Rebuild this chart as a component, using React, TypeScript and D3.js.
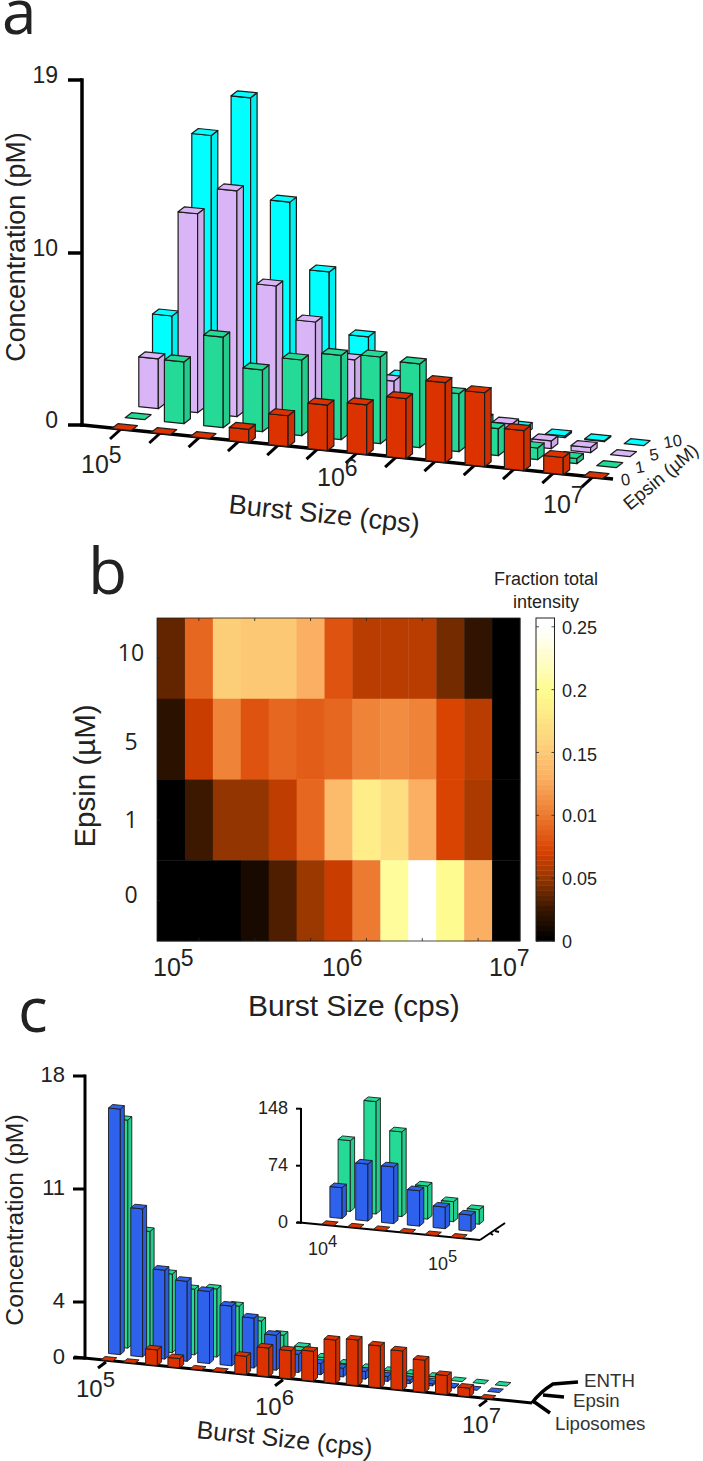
import React from "react";
import { scaleLinear, line, range, color } from "d3";

// panel a: Burst Size bins, concentration (pM)
const epsinLevels = ["0", "1", "5", "10"];
const epsin0 = [0, 0, 0, 0.77, 1.8, 2.65, 2.9, 3.49, 4.65, 4.3, 2.33, 1.0, 0];
const epsin1 = [0, 3.59, 5.27, 3.59, 4.4, 4.9, 5.04, 4.87, 3.37, 1.57, 0.68, 0.3, 0];
const epsin5 = [2.9, 11.4, 12.8, 7.83, 5.97, 4.0, 3.0, 1.5, 1.0, 1.2, 0.45, 0.3, 0];
const epsin10 = [4.75, 14.9, 17.07, 11.85, 8.24, 4.7, 2.6, 1.2, 0.6, 0.35, 0.1, 0.05, 0];

// panel b: fraction total intensity, rows from top
const heatRows = ["10", "5", "1", "0"];
const heat10 = [0.035, 0.09, 0.155, 0.15, 0.15, 0.13, 0.08, 0.06, 0.06, 0.06, 0.04, 0.02, 0];
const heat5 = [0.018, 0.065, 0.105, 0.08, 0.09, 0.085, 0.09, 0.105, 0.11, 0.105, 0.072, 0.06, 0];
const heat1 = [0, 0.025, 0.048, 0.048, 0.062, 0.09, 0.14, 0.185, 0.17, 0.13, 0.072, 0.055, 0];
const heat0 = [0, 0, 0, 0.01, 0.03, 0.05, 0.065, 0.1, 0.205, 0.25, 0.2, 0.13, 0];
const colorbarTicks = [0, 0.05, 0.1, 0.15, 0.2, 0.25];
const colorbarLabels = ["0", "0.05", "0.01", "0.15", "0.2", "0.25"];
const heatStops = [0, 0.025, 0.05, 0.07, 0.1, 0.13, 0.16, 0.2, 0.23, 0.25];
const heatColors = ["#000000", "#3c1800", "#9a3800", "#d84000", "#ec7a30", "#fbaf62", "#fdd47c", "#fefc90", "#fffdd0", "#ffffff"];

// panel c
const liposomes = [0, 0, 1.12, 0.66, 0, 0, 1.3, 2.05, 2.02, 2.14, 3.1, 3.26, 3.0, 2.8, 2.3, 1.36, 0.62, 0];
const epsinC = [15.74, 9.7, 6.04, 5.49, 5.0, 4.23, 3.57, 2.5, 1.3, 0.8, 0.63, 0.55, 0.35, 0.25, 0.15, 0.05, 0, 0];
const enth = [14.66, 7.9, 5.4, 4.6, 4.75, 3.8, 2.9, 2.04, 1.34, 0.73, 0.45, 0.3, 0.25, 0.2, 0.15, 0, 0, 0];

// panel c inset
const insetLiposomes = [0, 0, 0, 0, 0, 0];
const insetEpsin = [40, 74, 73.6, 46, 28, 21];
const insetEnth = [92, 146, 110, 43, 26, 19];

const RED = "#dc3200";
const GREEN = "#25da96";
const PURPLE = "#d9b5f7";
const CYAN = "#00ffff";
const BLUE = "#2f62ec";
const SANS = "'Liberation Sans', Arial, sans-serif";
const MYRIAD = "'Open Sans', sans-serif";
const INK = "#222";

const path = line();

function Bars({ rows, h, x0, y0, dx, dy, sx, sy, w, d, sw = 1 }) {
  // rows go front to back, painted back to front
  const n = rows[0].values.length;
  const xAt = scaleLinear().domain([0, n - 1]).range([x0, x0 + dx * (n - 1)]);
  const yAt = scaleLinear().domain([0, n - 1]).range([y0, y0 + dy * (n - 1)]);
  const slope = dy / dx;
  const dp = d[0], dq = d[1];
  return (
    <g strokeWidth={sw} stroke="#1c1c1c" strokeLinejoin="round">
      {rows
        .map((r, s) => ({ ...r, s }))
        .reverse()
        .map((r) =>
          r.values.map((v, i) => {
            const X = xAt(i) + r.s * sx;
            const Y = yAt(i) + r.s * sy;
            const H = h(v);
            const a = [X, Y - H];
            const b = [X + w, Y - H + w * slope];
            const c = [X + w + dp, Y - H + w * slope + dq];
            const e = [X + dp, Y - H + dq];
            const side = color(r.color).darker(0.18).formatHex();
            return (
              <g key={`${r.s}-${i}`}>
                {H > 0.5 && (
                  <>
                    <path d={path([a, b, [b[0], b[1] + H], [a[0], a[1] + H]]) + "Z"} fill={r.color} />
                    <path d={path([b, c, [c[0], c[1] + H], [b[0], b[1] + H]]) + "Z"} fill={side} />
                  </>
                )}
                <path d={path([a, b, c, e]) + "Z"} fill={r.color} />
              </g>
            );
          })
        )}
    </g>
  );
}

function Pow({ x, y, exp, size, font = SANS }) {
  return (
    <text x={x} y={y} fontFamily={font} fontSize={size} fill={INK}>
      10
      <tspan dy={-size * 0.42} fontSize={size * 0.92}>{exp}</tspan>
    </text>
  );
}

function YAxis({ x, top, bottom, ticks, labels, h, tickLen, sw, size, labelGap, labelDy }) {
  return (
    <g>
      <line x1={x} x2={x} y1={top - sw / 2} y2={bottom + sw / 2} stroke="#000" strokeWidth={sw} />
      {ticks.map((t, i) => (
        <g key={t}>
          <line x1={x - tickLen} x2={x} y1={bottom - h(t)} y2={bottom - h(t)} stroke="#000" strokeWidth={sw} />
          <text x={x - labelGap} y={bottom - h(t) + labelDy} textAnchor="end" fontFamily={SANS} fontSize={size} fill={INK}>
            {labels[i]}
          </text>
        </g>
      ))}
    </g>
  );
}

function PanelA() {
  const h = scaleLinear().domain([0, 10, 19]).range([0, 172, 345]);
  const ticks = range(13).map((i) => 121 + 39.3 * i);
  return (
    <g>
      <text x={2} y={34} fontFamily={MYRIAD} fontSize={62} fill="#222">a</text>
      <text transform="translate(24.7,247) rotate(-90)" textAnchor="middle" fontFamily={SANS} fontSize={26.8} fill={INK}>Concentration (pM)</text>
      <YAxis x={82} top={80} bottom={425} ticks={[0, 10, 19]} labels={["0", "10", "19"]} h={h} tickLen={14} sw={3.5} size={23} labelGap={24} labelDy={3} />
      <line x1={80} y1={424.8} x2={613} y2={479} stroke="#000" strokeWidth={3.5} />
      {ticks.map((x) => (
        <line key={x} x1={x} y1={429 + (x - 121) * 0.102} x2={x - 11} y2={439 + (x - 121) * 0.102} stroke="#000" strokeWidth={3} />
      ))}
      <Bars
        h={h}
        x0={111.4}
        y0={428.7}
        dx={39.3}
        dy={4}
        sx={13.7}
        sy={-11}
        w={19.5}
        d={[6.5, -5]}
        sw={1.2}
        rows={[
          { values: epsin0, color: RED },
          { values: epsin1, color: GREEN },
          { values: epsin5, color: PURPLE },
          { values: epsin10, color: CYAN },
        ]}
      />
      <Pow x={81} y={473} exp="5" size={25} />
      <Pow x={317} y={486} exp="6" size={25} />
      <Pow x={543} y={513} exp="7" size={25} />
      <text transform="translate(228,513) rotate(6)" fontFamily={SANS} fontSize={27.2} fill={INK}>Burst Size (cps)</text>
      {epsinLevels.map((t, i) => (
        <text key={t} transform={`translate(${622 + i * 14.2},${486 - i * 12.5}) rotate(-10)`} fontFamily={SANS} fontSize={16.5} fill={INK}>{t}</text>
      ))}
      <text transform="translate(630,511) rotate(-40)" fontFamily={SANS} fontSize={18.8} fill={INK}>Epsin (µM)</text>
    </g>
  );
}

function PanelB() {
  const rows = [heat10, heat5, heat1, heat0];
  const L = 157, R = 520, T = 618, B = 941;
  const x = scaleLinear().domain([0, 13]).range([L, R]);
  const y = scaleLinear().domain([0, 4]).range([T, B]);
  const heat = scaleLinear().domain(heatStops).range(heatColors).clamp(true);
  const cb = scaleLinear().domain([0, 0.257]).range([B, T]);
  const steps = range(64);
  return (
    <g>
      <text x={88} y={594} fontFamily={MYRIAD} fontSize={64} fill="#222">b</text>
      {rows.map((row, r) =>
        row.map((v, c) => (
          <rect key={`${r}-${c}`} x={x(c)} y={y(r)} width={x(1) - x(0) + 0.4} height={y(1) - y(0) + 0.4} fill={heat(v)} />
        ))
      )}
      <rect x={L} y={T} width={R - L} height={B - T} fill="none" stroke="#222" strokeWidth={0.8} />
      {range(6).map((i) => (
        <g key={i} stroke="#222" strokeWidth={0.8}>
          <line x1={x(1.5 + 2 * i)} x2={x(1.5 + 2 * i)} y1={T} y2={T + 3} />
          <line x1={x(1.5 + 2 * i)} x2={x(1.5 + 2 * i)} y1={B} y2={B - 3} />
        </g>
      ))}
      {range(4).map((i) => (
        <line key={i} x1={L} x2={L + 3} y1={y(i + 0.5)} y2={y(i + 0.5)} stroke="#222" strokeWidth={0.8} />
      ))}
      {heatRows.map((t, i) => (
        <text key={t} x={131} y={[661, 750, 828, 903][i]} textAnchor="middle" fontFamily={MYRIAD} fontSize={23} fill={INK}>{t}</text>
      ))}
      <text transform="translate(95,776) rotate(-90)" textAnchor="middle" fontFamily={SANS} fontSize={29.5} fill={INK}>Epsin (µM)</text>
      <Pow x={153} y={976} exp="5" size={25} />
      <Pow x={322} y={976} exp="6" size={25} />
      <Pow x={489} y={976} exp="7" size={25} />
      <text x={248} y={1016} fontFamily={SANS} fontSize={30} fill={INK}>Burst Size (cps)</text>

      {steps.map((i) => (
        <rect key={i} x={536} y={cb(((i + 1) / 64) * 0.257)} width={18.5} height={(B - T) / 64 + 0.4} fill={heat((i / 63) * 0.257)} />
      ))}
      <rect x={536} y={T} width={18.5} height={B - T} fill="none" stroke="#222" strokeWidth={1} />
      {colorbarTicks.map((t, i) => (
        <g key={t}>
          <line x1={536} x2={539} y1={cb(t)} y2={cb(t)} stroke="#222" strokeWidth={0.8} />
          <line x1={551.5} x2={554.5} y1={cb(t)} y2={cb(t)} stroke="#222" strokeWidth={0.8} />
          <text x={562} y={cb(t) + (i === 3 ? 9 : 7)} fontFamily={SANS} fontSize={18} fill={INK}>{colorbarLabels[i]}</text>
        </g>
      ))}
      <text x={546} y={585} textAnchor="middle" fontFamily={SANS} fontSize={18} fill={INK}>Fraction total</text>
      <text x={546} y={608} textAnchor="middle" fontFamily={SANS} fontSize={18} fill={INK}>intensity</text>
    </g>
  );
}

function PanelC() {
  const h = scaleLinear().domain([0, 4, 11, 18]).range([0, 56, 169, 282]);
  const tickXs = [106, 283, 487];
  return (
    <g>
      <text x={18} y={1032} fontFamily={MYRIAD} fontSize={62} fill="#222">c</text>
      <text transform="translate(23,1220) rotate(-90)" textAnchor="middle" fontFamily={SANS} fontSize={24.7} fill={INK}>Concentration (pM)</text>
      <YAxis x={85} top={1076} bottom={1358} ticks={[0, 4, 11, 18]} labels={["0", "4", "11", "18"]} h={h} tickLen={12} sw={3} size={22} labelGap={20} labelDy={6} />
      <line x1={74} y1={1357} x2={532} y2={1403} stroke="#000" strokeWidth={3} />
      {tickXs.map((x) => (
        <line key={x} x1={x} y1={1362 + (x - 106) * 0.1} x2={x - 8} y2={1368 + (x - 106) * 0.1} stroke="#000" strokeWidth={3} />
      ))}
      <Bars
        h={h}
        x0={101}
        y0={1360}
        dx={22.3}
        dy={2.23}
        sx={7.5}
        sy={-6.5}
        w={11.8}
        d={[4, -3.5]}
        sw={0.9}
        rows={[
          { values: liposomes, color: RED },
          { values: epsinC, color: BLUE },
          { values: enth, color: GREEN },
        ]}
      />
      <Pow x={76} y={1397} exp="5" size={24} />
      <Pow x={255} y={1415} exp="6" size={24} />
      <Pow x={462} y={1433} exp="7" size={24} />
      <text transform="translate(196,1438) rotate(6)" fontFamily={SANS} fontSize={25} fill={INK}>Burst Size (cps)</text>
      <g fill="none" stroke="#000" strokeWidth={3.5}>
        <path d="M532,1403 Q540,1392 553,1384 L578,1382" />
        <path d="M543,1395 L564,1397" />
        <path d="M533,1401 L550,1413" />
      </g>
      <text x={584} y={1387} fontFamily={SANS} fontSize={18.7} fill="#333">ENTH</text>
      <text x={573} y={1407} fontFamily={SANS} fontSize={18.7} fill="#333">Epsin</text>
      <text x={555} y={1430} fontFamily={SANS} fontSize={18.7} fill="#333">Liposomes</text>
      <Inset />
    </g>
  );
}

function Inset() {
  const h = scaleLinear().domain([0, 74, 148]).range([0, 57, 114]);
  return (
    <g>
      <YAxis x={301} top={1109} bottom={1222.7} ticks={[0, 74, 148]} labels={["0", "74", "148"]} h={h} tickLen={5} sw={2} size={18} labelGap={13} labelDy={5} />
      <line x1={297} y1={1222.3} x2={480} y2={1240} stroke="#000" strokeWidth={2} />
      <g fill="none" stroke="#000" strokeWidth={2}>
        <path d="M480,1240 L505,1223" />
        <path d="M495,1231 L499,1232" />
        <path d="M490,1233 L493,1235" />
      </g>
      <Bars
        h={h}
        x0={321.7}
        y0={1224.3}
        dx={25.8}
        dy={2.55}
        sx={8.2}
        sy={-7}
        w={12.2}
        d={[4.3, -3.5]}
        sw={0.9}
        rows={[
          { values: insetLiposomes, color: RED },
          { values: insetEpsin, color: BLUE },
          { values: insetEnth, color: GREEN },
        ]}
      />
      <Pow x={308} y={1255} exp="4" size={18} />
      <Pow x={428} y={1270} exp="5" size={18} />
    </g>
  );
}

export default function App() {
  return (
    <svg width={703} height={1461} viewBox="0 0 703 1461" style={{ position: "absolute", left: 0, top: 0, background: "#fff" }}>
      <PanelA />
      <PanelB />
      <PanelC />
    </svg>
  );
}
